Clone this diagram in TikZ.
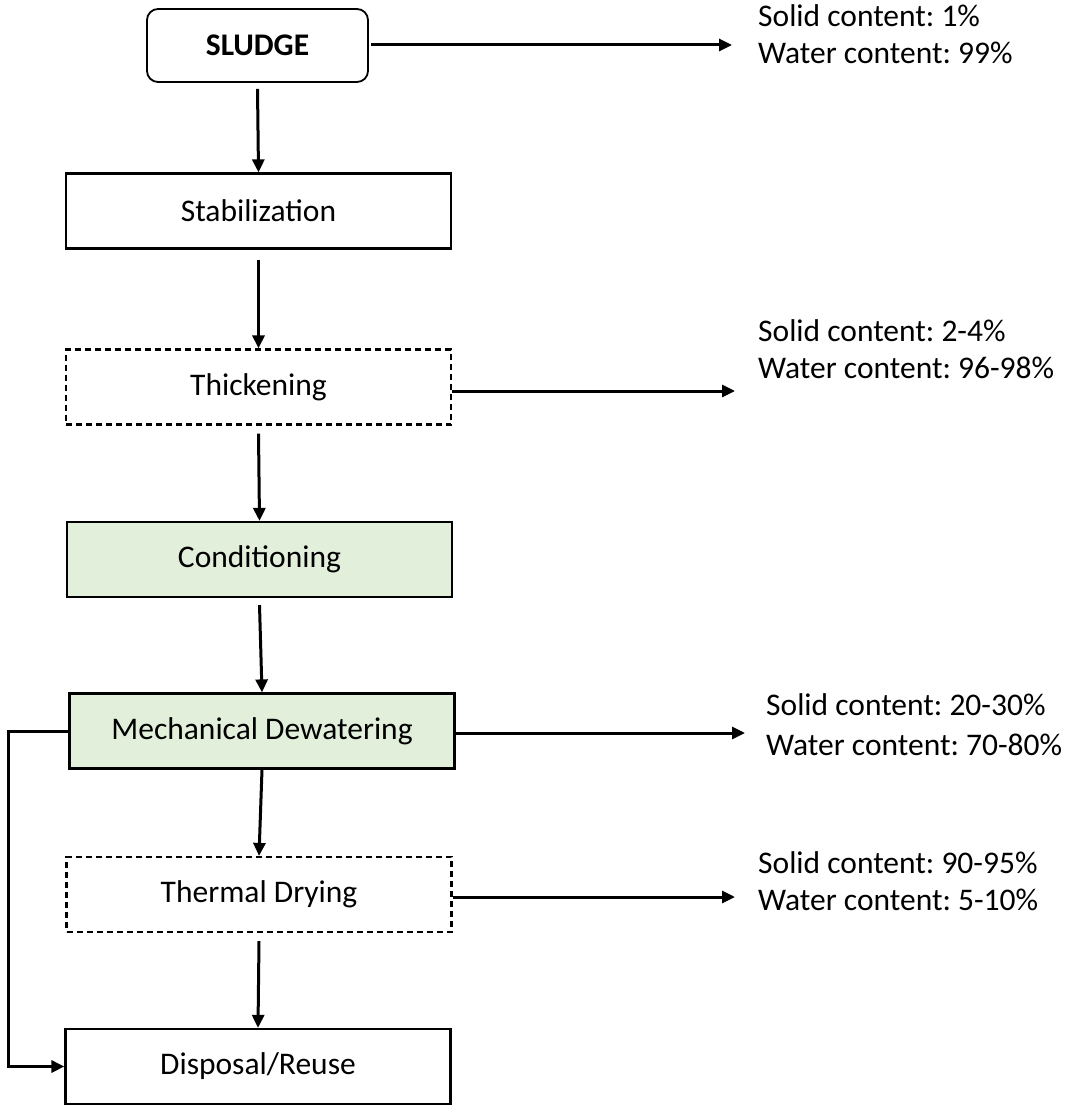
\documentclass[tikz,border=0pt]{standalone}
\usepackage{fontspec}
\setmainfont{Carlito}
\usetikzlibrary{arrows.meta}
\definecolor{stagegreen}{HTML}{E2EFDA}
\frenchspacing
\tikzset{
  x=1pt, y=-1pt,
  stage/.style={draw, line width=2.2pt, minimum width=385pt, minimum height=75pt, font=\fontsize{31.5}{36}\selectfont, inner sep=0pt},
  optional/.style={stage, dashed, dash pattern=on 6pt off 4pt},
  treated/.style={stage, fill=stagegreen},
  flow/.style={line width=3pt, -{Triangle[length=13pt, width=12pt]}},
  note/.style={anchor=west, font=\fontsize{31.5}{36}\selectfont, inner sep=0pt}
}
\begin{document}
\begin{tikzpicture}
\useasboundingbox (0,0) rectangle (1066,1107);
% process chain
\node[draw, line width=1.8pt, rounded corners=11pt, minimum width=221pt, minimum height=73pt, font=\bfseries\fontsize{31.5}{36}\selectfont] (sludge) at (257.5,45.5) {SLUDGE};
\node[stage] (stab) at (258.5,211) {Stabilization};
\node[optional] (thick) at (258.5,387) {Thickening};
\node[treated] (cond) at (259.5,559.5) {Conditioning};
\node[treated] (mech) at (262,731) {Mechanical Dewatering};
\node[optional] (therm) at (259,894.5) {Thermal Drying};
\node[stage] (disp) at (258,1066.5) {Disposal/Reuse};
% vertical flow between stages
\draw[flow] ([yshift=-6pt]sludge.south) -- (stab.north);
\draw[flow] ([yshift=-10pt]stab.south) -- (thick.north);
\draw[flow] ([yshift=-8pt]thick.south) -- (cond.north);
\draw[flow] ([yshift=-7pt]cond.south) -- (mech.north);
\draw[flow] (mech.south) -- (therm.north);
\draw[flow] ([yshift=-8pt]therm.south) -- (disp.north);
% bypass from dewatering straight to disposal
\coordinate (bypass) at (8,0);
\draw[flow] (mech.west) -- (bypass |- mech.west) -- (bypass |- disp.west) -- (disp.west);
% solids / water content after each stage
\coordinate (c1) at (732,45);
\coordinate (c2) at (735,391);
\coordinate (c3) at (745,733);
\coordinate (c4) at (735,897);
\draw[flow] ([xshift=2pt]sludge.east |- c1) -- (c1);
\draw[flow] (thick.east |- c2) -- (c2);
\draw[flow] (mech.east |- c3) -- (c3);
\draw[flow] (therm.east |- c4) -- (c4);
\node[note] (s1) at (758,16) {Solid content: 1\%};
\node[note] (w1) at (758,53) {Water content: 99\%};
\node[note] (s2) at (758,331) {Solid content: 2-4\%};
\node[note] (w2) at (758,368) {Water content: 96-98\%};
\node[note] (s3) at (766,705) {Solid content: 20-30\%};
\node[note] (w3) at (766,745) {Water content: 70-80\%};
\node[note] (s4) at (758,863) {Solid content: 90-95\%};
\node[note] (w4) at (758,900) {Water content: 5-10\%};
\end{tikzpicture}
\end{document}
